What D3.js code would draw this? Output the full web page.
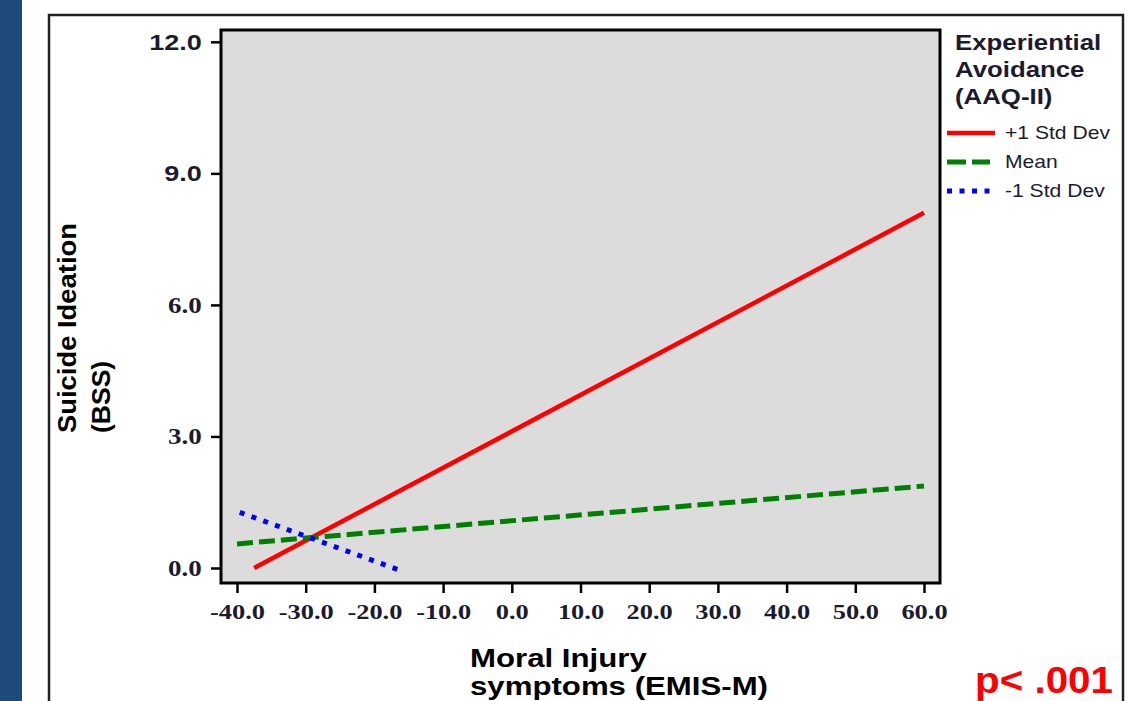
<!DOCTYPE html>
<html>
<head>
<meta charset="utf-8">
<script src="https://cdn.jsdelivr.net/npm/d3@7"></script>
<style>
  body { margin: 0; background: #fff; }
  svg { display: block; }
  .tick line { stroke: #000; stroke-width: 2.5; }
  .domain { display: none; }
</style>
</head>
<body>
<div id="chart"></div>
<script>
const svgWidth = 1132;
const svgHeight = 701;

// plot frame (gray panel)
const frame = { left: 221, top: 30, right: 940, bottom: 583 };
const stretch = 1.2; // text in the original is drawn a bit wide

// data
const xTicks = [-40, -30, -20, -10, 0, 10, 20, 30, 40, 50, 60];
const yTicks = [0, 3, 6, 9, 12];
const groupNames = ["+1 Std Dev", "Mean", "-1 Std Dev"];
const plusSD = [[-37.5, 0.0], [60, 8.1]];
const meanAAQ = [[-40, 0.55], [60, 1.87]];
const minusSD = [[-39.6, 1.27], [-16.3, -0.05]];
const legendTitle = ["Experiential", "Avoidance", "(AAQ-II)"];
const xTitle = ["Moral Injury", "symptoms (EMIS-M)"];
const yTitle = ["Suicide Ideation", "(BSS)"];

const lineStyles = [
  { color: "#ff0000", width: 4.5, dash: null },
  { color: "#008000", width: 5, dash: "16,6" },
  { color: "#0000ff", width: 5, dash: "5,7.5" }
];
const series = [plusSD, meanAAQ, minusSD];

const svg = d3.select("#chart")
  .append("svg")
  .attr("width", svgWidth)
  .attr("height", svgHeight);

// slide background: blue band + outer box
svg.append("rect")
  .attr("x", 0).attr("y", 0)
  .attr("width", 22).attr("height", svgHeight)
  .attr("fill", "#1f4a7c");

svg.append("rect")
  .attr("x", 49).attr("y", 15)
  .attr("width", 1074).attr("height", 760)
  .attr("fill", "#fff")
  .attr("stroke", "#222")
  .attr("stroke-width", 2.5);

// scales
const x = d3.scaleLinear()
  .domain([-42.33, 62.33])
  .range([frame.left, frame.right]);

const y = d3.scaleLinear()
  .domain([-0.342, 12.27])
  .range([frame.bottom, frame.top]);

// gray panel
svg.append("rect")
  .attr("x", frame.left).attr("y", frame.top)
  .attr("width", frame.right - frame.left)
  .attr("height", frame.bottom - frame.top)
  .attr("fill", "#dcdcdc");

// axes (plain hyphen for negatives, like the original)
const fmt = d => d.toFixed(1);

const bottomAxis = d3.axisBottom(x)
  .tickValues(xTicks)
  .tickSize(10)
  .tickPadding(10)
  .tickFormat(fmt);

const leftAxis = d3.axisLeft(y)
  .tickValues(yTicks)
  .tickSize(10)
  .tickPadding(6)
  .tickFormat(fmt);

const gx = svg.append("g")
  .attr("transform", `translate(0, ${frame.bottom})`)
  .call(bottomAxis);

gx.selectAll("text")
  .attr("font-family", "'Liberation Serif', serif")
  .attr("font-weight", "bold")
  .attr("font-size", 22)
  .attr("fill", "#1b1b30")
  .attr("transform", `scale(${stretch},1)`);

const gy = svg.append("g")
  .attr("transform", `translate(${frame.left}, 0)`)
  .call(leftAxis);

gy.selectAll("text")
  .attr("font-family", d => d >= 9 ? "'Liberation Sans', Arial, sans-serif" : "'Liberation Serif', serif")
  .attr("font-weight", "bold")
  .attr("font-size", 22.5)
  .attr("fill", "#1b1b30")
  .attr("transform", `scale(${stretch},1)`);

// the lines
const line = d3.line()
  .x(d => x(d[0]))
  .y(d => y(d[1]));

svg.append("g")
  .selectAll("path")
  .data(series)
  .join("path")
  .attr("d", line)
  .attr("fill", "none")
  .attr("stroke", (d, i) => lineStyles[i].color)
  .attr("stroke-width", (d, i) => lineStyles[i].width)
  .attr("stroke-dasharray", (d, i) => lineStyles[i].dash);

// frame border on top
svg.append("rect")
  .attr("x", frame.left).attr("y", frame.top)
  .attr("width", frame.right - frame.left)
  .attr("height", frame.bottom - frame.top)
  .attr("fill", "none")
  .attr("stroke", "#000")
  .attr("stroke-width", 3);

// helper for horizontally stretched text
function wideText(g, tx, ty, str, size, weight, color) {
  return g.append("text")
    .attr("transform", `translate(${tx},${ty}) scale(${stretch},1)`)
    .attr("font-family", "'Liberation Sans', Arial, sans-serif")
    .attr("font-size", size)
    .attr("font-weight", weight)
    .attr("fill", color)
    .text(str);
}

// legend
const legend = svg.append("g");
legendTitle.forEach((t, i) => {
  wideText(legend, 955, 50 + i * 27, t, 21.5, "bold", "#1b1b30");
});

const legendRows = [133, 162, 191];
legend.selectAll("line")
  .data(groupNames)
  .join("line")
  .attr("x1", 947)
  .attr("x2", (d, i) => i === 0 ? 995 : 990)
  .attr("y1", (d, i) => legendRows[i])
  .attr("y2", (d, i) => legendRows[i])
  .attr("stroke", (d, i) => lineStyles[i].color)
  .attr("stroke-width", (d, i) => lineStyles[i].width)
  .attr("stroke-dasharray", (d, i) => i === 1 ? "19,6" : lineStyles[i].dash);

groupNames.forEach((name, i) => {
  wideText(legend, 1005, legendRows[i] + 6, name, 17.6, "normal", "#1b1b30");
});

// axis titles
yTitle.forEach((t, i) => {
  const txt = svg.append("text")
    .attr("transform", `translate(${76 + i * 34}, 433) rotate(-90)`)
    .attr("font-family", "'Liberation Sans', Arial, sans-serif")
    .attr("font-size", 26.5)
    .attr("font-weight", "bold")
    .attr("fill", "#000")
    .text(t);
  if (i === 0) txt.attr("textLength", 210).attr("lengthAdjust", "spacingAndGlyphs");
});

xTitle.forEach((t, i) => {
  wideText(svg, 470, 667 + i * 28, t, 26, "bold", "#000");
});

// significance note
svg.append("text")
  .attr("x", 975)
  .attr("y", 693)
  .attr("font-family", "'Liberation Sans', Arial, sans-serif")
  .attr("font-size", 37)
  .attr("font-weight", "bold")
  .attr("fill", "#ff0000")
  .attr("textLength", 138)
  .attr("lengthAdjust", "spacingAndGlyphs")
  .text("p< .001");
</script>
</body>
</html>
